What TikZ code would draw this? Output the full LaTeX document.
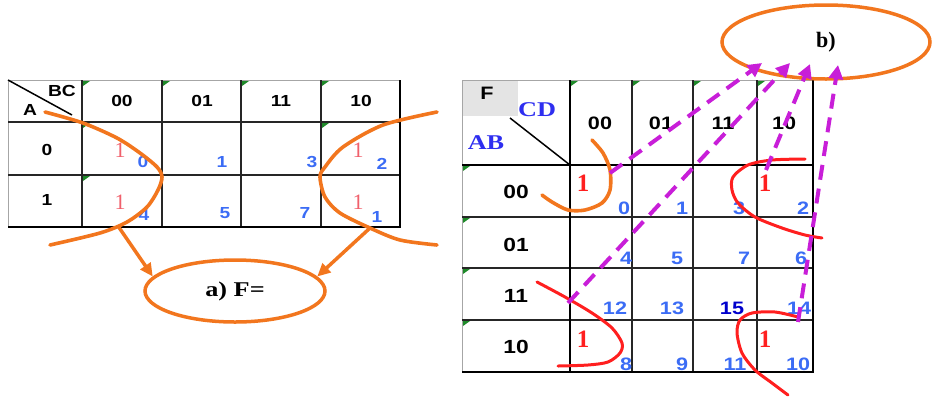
\documentclass[tikz,border=0pt]{standalone}
\usepackage{fontspec}
\setmainfont{Liberation Serif}
\setsansfont{Liberation Sans}
\newfontfamily\widesans[FakeStretch=1.2]{Liberation Sans}
\newfontfamily\wideserif[FakeStretch=1.25]{Liberation Serif}
\usepackage{xcolor}
\usepackage{tikz}
\usetikzlibrary{arrows.meta,shapes.geometric}
\definecolor{corange}{HTML}{F2761E}
\definecolor{cred}{HTML}{FF1F1F}
\definecolor{cpink}{HTML}{F0606C}
\definecolor{cmag}{HTML}{C81ED8}
\definecolor{cnum}{HTML}{3B6CF5}
\definecolor{caxis}{HTML}{2E2EF0}
\definecolor{ctick}{HTML}{1F8A2A}
\definecolor{cpaper}{HTML}{E4E4E4}
\tikzset{
  hdr/.style    ={font=\widesans\bfseries\fontsize{16}{16}\selectfont},
  bighdr/.style ={font=\widesans\bfseries\fontsize{18}{18}\selectfont},
  rowhdr/.style ={font=\widesans\bfseries\fontsize{19}{19}\selectfont},
  num/.style    ={text=cnum,inner sep=0pt,font=\widesans\bfseries\fontsize{16}{16}\selectfont},
  bignum/.style ={text=cnum,inner sep=0pt,font=\widesans\bfseries\fontsize{18}{18}\selectfont},
  pinkone/.style={text=cpink,inner sep=0pt,font=\fontsize{22}{22}\selectfont},
  redone/.style ={text=cred,inner sep=0pt,font=\bfseries\fontsize{25}{25}\selectfont},
  axis/.style   ={text=caxis,inner sep=0pt,font=\wideserif\bfseries\fontsize{21}{21}\selectfont},
  oval/.style   ={ellipse,draw=corange,line width=3.5pt,inner sep=0pt},
  rim/.style    ={line width=0.9pt,draw=black!35},
  grid/.style   ={line width=2.2pt,draw=black!85},
  edge/.style   ={line width=2.8pt,draw=black},
  ring/.style   ={draw=corange,line width=3.6pt,line cap=round},
  group/.style  ={draw=cred,line width=3pt,line cap=round},
  hand/.style   ={-{Triangle[length=13pt,width=12pt]},line width=3.5pt,draw=corange},
  jump/.style   ={-{Triangle[length=14pt,width=14pt]},line width=4pt,draw=cmag,
                  dash pattern=on 15pt off 9pt}
}
\begin{document}
\begin{tikzpicture}[x=1pt,y=-1pt]
  \useasboundingbox (0,0) rectangle (933,400);
  % left map
  \draw[rim] (8,227) -- (8,80) -- (400,80);
  \draw[grid] (8,122) -- (400,122);
  \draw[grid] (8,175) -- (400,175);
  \foreach \x in {82,162,241,321} \draw[grid] (\x,80) -- (\x,227);
  \draw[edge] (8,227) -- (400,227) -- (400,80);
  \draw[line width=1.5pt] (8,80) -- (72,115);
  \node[hdr] (bc) at (62,91) {BC};
  \node[hdr] (va) at (30,110) {A};
  \node[hdr] (lc00) at (122,101) {00};
  \node[hdr] (lc01) at (202,101) {01};
  \node[hdr] (lc11) at (281,101) {11};
  \node[hdr] (lc10) at (361,101) {10};
  \node[hdr] (lr0) at (47,150) {0};
  \node[hdr] (lr1) at (47,200) {1};
  \node[pinkone] (lm0) at (120,150) {1};
  \node[pinkone] (lm4) at (120,202) {1};
  \node[pinkone] (lm2) at (358,150) {1};
  \node[pinkone] (lm6) at (358,202) {1};
  \node[num] (ln0) at (143,162) {0};
  \node[num] (ln1) at (222,162) {1};
  \node[num] (ln3) at (312,162) {3};
  \node[num] (ln2) at (382,164) {2};
  \node[num] (ln4) at (144,215) {4};
  \node[num] (ln5) at (225,213) {5};
  \node[num] (ln7) at (305,213) {7};
  \node[num] (ln6) at (377,217) {1};
  % right map
  \fill[cpaper] (463,81) rectangle (518,116);
  \draw[rim] (462,372) -- (462,80) -- (813,80);
  \foreach \y in {217,268,320} \draw[grid] (462,\y) -- (813,\y);
  \foreach \x in {632,693,757} \draw[grid] (\x,80) -- (\x,372);
  \draw[edge] (462,165) -- (813,165);
  \draw[edge] (570,80) -- (570,372);
  \draw[edge] (462,372) -- (813,372) -- (813,80);
  \draw[line width=1.5pt] (510,118) -- (570,165);
  \foreach \p in {(82,80),(162,80),(241,80),(321,80),(82,122),(321,122),(82,175),
                  (570,80),(632,80),(693,80),(757,80),(462,165),(462,217),(462,268),(462,320)}
    \fill[ctick] \p ++(1,1) -- ++(7,0) -- ++(-7,5) -- cycle;
  \node[bighdr] (f) at (487,93) {F};
  \node[axis] (cd) at (537,110) {CD};
  \node[axis] (ab) at (486,143) {AB};
  \node[bighdr] (rc00) at (600,123) {00};
  \node[bighdr] (rc01) at (661,123) {01};
  \node[bighdr] (rc11) at (723,123) {11};
  \node[bighdr] (rc10) at (784,123) {10};
  \node[rowhdr] (rr00) at (516,192) {00};
  \node[rowhdr] (rr01) at (516,245) {01};
  \node[rowhdr] (rr11) at (516,296) {11};
  \node[rowhdr] (rr10) at (516,347) {10};
  \node[redone] (rm0) at (583,183) {1};
  \node[redone] (rm2) at (765,183) {1};
  \node[redone] (rm8) at (583,339) {1};
  \node[redone] (rm10) at (765,339) {1};
  \node[bignum] (rn0) at (624,208) {0};
  \node[bignum] (rn1) at (682,208) {1};
  \node[bignum] (rn3) at (739,208) {3};
  \node[bignum] (rn2) at (803,208) {2};
  \node[bignum] (rn4) at (626,258) {4};
  \node[bignum] (rn5) at (677,258) {5};
  \node[bignum] (rn7) at (744,258) {7};
  \node[bignum] (rn6) at (801,258) {6};
  \node[bignum] (rn12) at (615,308) {12};
  \node[bignum] (rn13) at (672,308) {13};
  \node[bignum,text=blue!80!black] (rn15) at (732,308) {15};
  \node[bignum] (rn14) at (799,308) {14};
  \node[bignum] (rn8) at (626,364) {8};
  \node[bignum] (rn9) at (682,364) {9};
  \node[bignum] (rn11) at (735,364) {11};
  \node[bignum] (rn10) at (798,364) {10};
  % loops
  \draw[ring] plot[smooth] coordinates {(45,112) (83,123) (117,138) (140,153) (157,167)
      (162,177) (158,190) (147,207) (127,222) (100,233) (50,245)};
  \draw[ring] plot[smooth] coordinates {(437,112) (383,125) (343,147) (325,167) (320,177)
      (325,197) (340,213) (370,228) (400,240) (437,245)};
  \draw[ring] plot[smooth] coordinates {(592,140) (603,153) (610,170) (610,190) (602,203)
      (585,210) (568,210) (552,202) (542,195)};
  \draw[group] plot[smooth] coordinates {(805,159) (772,160) (748,165) (733,177) (732,190)
      (738,203) (755,217) (782,228) (805,235) (822,238)};
  \draw[group] plot[smooth] coordinates {(537,282) (565,297) (592,313) (612,328) (622,343)
      (620,353) (608,362) (588,365) (558,366)};
  \draw[group] plot[smooth] coordinates {(798,317) (775,312) (752,313) (740,320) (737,333)
      (742,353) (755,370) (772,383) (788,395)};
  % results
  \node[oval,minimum width=180,minimum height=62,font=\wideserif\bfseries\fontsize{21}{21}\selectfont]
    (fa) at (235,291) {a) F=};
  \node[oval,minimum width=208,minimum height=74,font=\bfseries\fontsize{22}{22}\selectfont]
    (fb) at (826,42) {b)};
  \coordinate (la) at (118,226);
  \coordinate (ra) at (370,228);
  \draw[hand] (la) -- (fa.170);
  \draw[hand] (ra) -- (fa.10);
  \coordinate (s1) at (610,173);
  \coordinate (s2) at (568,303);
  \coordinate (s3) at (766,170);
  \coordinate (s4) at (798,322);
  \coordinate (t1) at (762,63);
  \coordinate (t2) at (790,63);
  \coordinate (t3) at (810,64);
  \coordinate (t4) at (838,65);
  \draw[jump] (s1) -- (t1);
  \draw[jump] (s2) -- (t2);
  \draw[jump] (s3) -- (t3);
  \draw[jump] (s4) -- (t4);
\end{tikzpicture}
\end{document}
